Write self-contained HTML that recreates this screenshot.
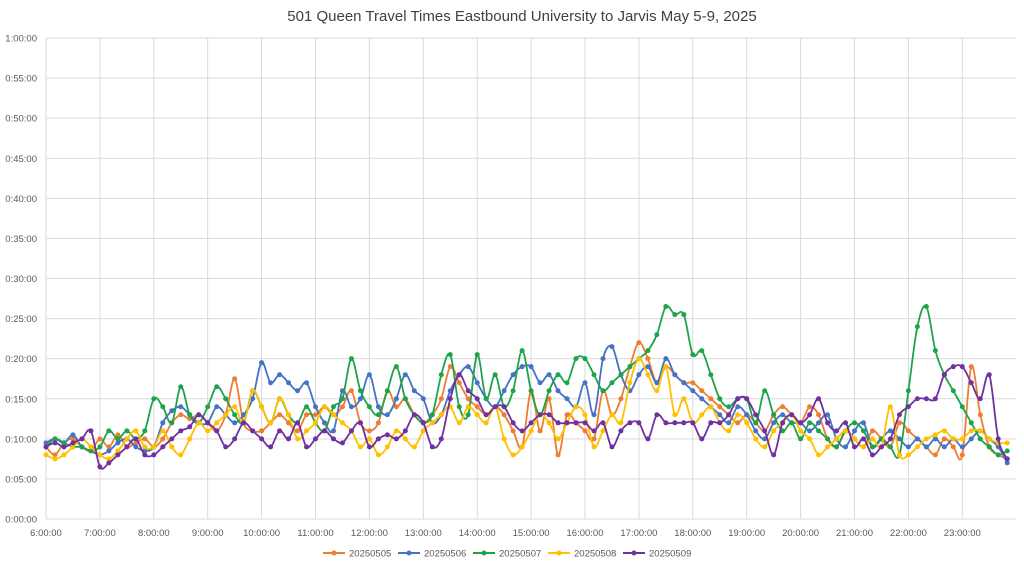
<!DOCTYPE html>
<html><head><meta charset="utf-8"><style>
html,body{margin:0;padding:0;background:#fff;}
svg{display:block;font-family:"Liberation Sans",sans-serif;}
</style></head><body>
<svg id="chart" width="1024" height="569">
<text x="522" y="21" text-anchor="middle" font-size="15" fill="#404040">501 Queen Travel Times Eastbound University to Jarvis May 5-9, 2025</text>
<g id="grid"></g><g id="axes"></g><g id="series"></g><g id="legend"></g>
</svg>
<script>
const seriesNames=["20250505","20250506","20250507","20250508","20250509"];
const yTicks=[0,5,10,15,20,25,30,35,40,45,50,55,60];
const yTickLabels=["0:00:00","0:05:00","0:10:00","0:15:00","0:20:00","0:25:00","0:30:00","0:35:00","0:40:00","0:45:00","0:50:00","0:55:00","1:00:00"];
const xTickHours=[6,7,8,9,10,11,12,13,14,15,16,17,18,19,20,21,22,23];
const xTickLabels=["6:00:00","7:00:00","8:00:00","9:00:00","10:00:00","11:00:00","12:00:00","13:00:00","14:00:00","15:00:00","16:00:00","17:00:00","18:00:00","19:00:00","20:00:00","21:00:00","22:00:00","23:00:00"];
const s0505=[9,8,9.5,10,9,8.5,10,9,10.5,9,9.5,10,9,10,12,13,12.5,13,12,11,13,17.5,12,11,11,12,13,12,11,13,13,14,13,14,16,12,11,12,16,14,15,13,12,13,15,19,17,15,14,13,14,13,11,9,16,11,15,8,13,12,11,10,16,13,15,19,22,20,17,19,18,17,17,16,15,14,13,12,13,12,11,13,14,13,12,14,13,10,9,11,10,9,11,10,9,12,11,10,9,8,10,9,8,19,13,9,8,7.5];
const s0506=[9.5,10,9.5,10.5,9,8.5,8,8.5,9.5,10,9,8.5,9,12,13.5,14,13,12,12,14,13,12,13,15,19.5,17,18,17,16,17,14,12,11,16,14,15,18,14,13,15,18,16,15,12,13,16,18,19,17,15,14,16,18,19,19,17,18,16,15,14,17,13,20,21.5,18,16,18,19,17,20,18,17,16,15,14,13,12,14,13,11,10,12,13,12,12,11,12,13,10,9,11,12,9,10,11,10,9,10,9,10,9,10,9,10,11,10,9,7];
const s0507=[9,10,9.5,9,9,8.5,9,11,10,11,10,11,15,14,12,16.5,13,12,14,16.5,15,13,12,16,14,12,15,13,12,14,12,11,14,15,20,16,14,13,16,19,15,13,12,13,18,20.5,14,13,20.5,15,18,14,16,21,16,13,16,18,17,20,20,18,16,17,18,19,20,21,23,26.5,25.5,25.5,20.5,21,18,15,14,15,15,12,16,13,11,12,10,12,11,10,9,11,12,11,9,10,9,8,16,24,26.5,21,18,16,14,12,10,9,8,8.5];
const s0508=[8,7.5,8,9,10,9,8,7.5,8.5,10,11,9,9,11,9,8,10,12,11,12,13,14,12,16,14,12,15,13,10,11,12,14,13,12,11,9,10,8,9,11,10,9,11,12,13,14,12,14,13,12,14,10,8,9,11,13,12,10,12,14,13,9,11,13,12,17,20,18,16,19,13,15,12,13,14,12,11,13,12,10,9,11,12,13,11,10,8,9,10,11,10,9,10,9,14,8,8,9,10,10.5,11,10,10,11,11,10,9.5,9.5];
const s0509=[9,9.5,9,9.5,10,11,6.5,7,8,9,10,8,8,9,10,11,11.5,13,12,11,9,10,12,11,10,9,11,10,12,9,10,11,10,9.5,11,12,9,10,10.5,10,11,13,12,9,10,15,18,16,15,13,14,14,12,11,12,13,13,12,12,12,12,11,12,9,11,12,12,10,13,12,12,12,12,10,12,12,13,15,15,13,11,8,12,13,12,13,15,12,11,12,9,10,8,9,10,13,14,15,15,15,18,19,19,17,15,18,10,7.5];
const allSeries=[s0505,s0506,s0507,s0508,s0509];
const colors=["#ED7D31","#4472C4","#1FA34A","#FFC000","#7030A0"];
const NS="http://www.w3.org/2000/svg";
const X0=46,PXH=53.9,Y0=519,PXM=481/60;
const xs=h=>X0+(h-6)*PXH, ys=m=>Y0-m*PXM;
function mk(tag,attrs,parent){const e=document.createElementNS(NS,tag);for(const k in attrs)e.setAttribute(k,attrs[k]);parent.appendChild(e);return e;}
const grid=document.getElementById('grid'),axes=document.getElementById('axes'),ser=document.getElementById('series'),leg=document.getElementById('legend');
yTicks.forEach((t,i)=>{
 const l=mk('line',{x1:X0,x2:1016,y1:ys(t),y2:ys(t),stroke:"#d9d9d9","stroke-width":1},grid);
 
 
 const tx=mk('text',{x:37,y:ys(t)+3.5,"text-anchor":"end","font-size":"9.5",fill:"#595959"},axes);
 tx.textContent=yTickLabels[i];
 
 
});
xTickHours.forEach((h,i)=>{
 const l=mk('line',{x1:xs(h),x2:xs(h),y1:ys(60),y2:Y0,stroke:"#d9d9d9","stroke-width":1},grid);
 
 
 const tx=mk('text',{x:xs(h),y:536,"text-anchor":"middle","font-size":"9.5",fill:"#595959"},axes);
 tx.textContent=xTickLabels[i];
 
 
});
allSeries.forEach((arr,si)=>{
 const pts=arr.map((v,i)=>[xs(6+i/6),ys(v)]);
 let d="M"+pts[0][0]+","+pts[0][1];
 for(let i=0;i<pts.length-1;i++){
  const p0=pts[Math.max(i-1,0)],p1=pts[i],p2=pts[i+1],p3=pts[Math.min(i+2,pts.length-1)];
  const c1=[p1[0]+(p2[0]-p0[0])/6,p1[1]+(p2[1]-p0[1])/6],c2=[p2[0]-(p3[0]-p1[0])/6,p2[1]-(p3[1]-p1[1])/6];
  d+=` C${c1[0].toFixed(1)},${c1[1].toFixed(1)} ${c2[0].toFixed(1)},${c2[1].toFixed(1)} ${p2[0].toFixed(1)},${p2[1].toFixed(1)}`;
 }
 const g=mk('g',{},ser);
 
 
 const p=mk('path',{d:d,fill:"none",stroke:colors[si],"stroke-width":1.8},g);
 
 
 pts.forEach(q=>{
  const c=mk('circle',{cx:q[0],cy:q[1],r:2.5,fill:colors[si]},g);
  
  
 });
});
seriesNames.forEach((n,i)=>{
 const x=323+i*75,y=553;
 const g=mk('g',{},leg);
 
 
 mk('line',{x1:x,x2:x+22,y1:y,y2:y,stroke:colors[i],"stroke-width":2},g);
 mk('circle',{cx:x+11,cy:y,r:2.5,fill:colors[i]},g);
 const t=mk('text',{x:x+26,y:y+3.5,"font-size":"9.5",fill:"#595959"},g);
 t.textContent=n;
});
</script>
</body></html>
